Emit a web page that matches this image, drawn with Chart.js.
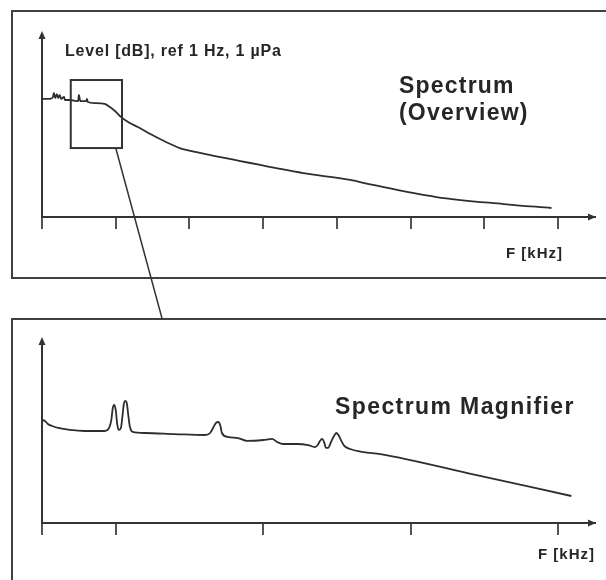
<!DOCTYPE html>
<html>
<head>
<meta charset="utf-8">
<script src="https://cdn.jsdelivr.net/npm/chart.js@4.4.1/dist/chart.umd.min.js"></script>
<style>
  html, body { margin: 0; padding: 0; background: #fff; overflow: hidden; }
  body { position: relative; width: 606px; height: 580px; }
  .panel { position: absolute; box-sizing: border-box; border: 2px solid #404040; }
  #panelTop { left: 11px; top: 10px; width: 700px; height: 269px; border-right: none; }
  #panelBottom { left: 11px; top: 318px; width: 700px; height: 400px; border-right: none; border-bottom: none; }
  canvas { position: absolute; left: 0; }
  #overview { top: 0; }
  #magnifier { top: 290px; }
  .txt { position: absolute; font-family: "Liberation Sans", Arial, sans-serif; font-weight: bold;
         color: #262626; line-height: 1; white-space: nowrap; }
</style>
</head>
<body>
<div class="panel" id="panelTop"></div>
<div class="panel" id="panelBottom"></div>
<canvas id="overview" width="606" height="320"></canvas>
<canvas id="magnifier" width="606" height="290"></canvas>

<div class="txt" style="left:65px; top:43px; font-size:16px; letter-spacing:0.8px;">Level [dB], ref 1 Hz, 1 µPa</div>
<div class="txt" style="left:399px; top:72px; font-size:23px; line-height:27px; letter-spacing:1.2px;">Spectrum<br>(Overview)</div>
<div class="txt" style="left:506px; top:245px; font-size:15px; letter-spacing:1px;">F [kHz]</div>
<div class="txt" style="left:335px; top:395px; font-size:23px; letter-spacing:1.4px;">Spectrum Magnifier</div>
<div class="txt" style="left:538px; top:546px; font-size:15px; letter-spacing:1px;">F [kHz]</div>

<script>
// overview spectrum: frequency in kHz, level in dB
const overviewFreq = [0.00, 0.11, 0.15, 0.16, 0.18, 0.20, 0.22, 0.24, 0.26, 0.30, 0.31, 0.38,
  0.49, 0.50, 0.52, 0.60, 0.61, 0.62, 0.72, 0.85, 0.92, 0.99, 1.07, 1.19, 1.30, 1.47, 1.68,
  1.87, 2.14, 2.42, 2.69, 2.96, 3.23, 3.54, 4.18, 4.49, 5.35, 6.26, 6.91];
const overviewLevel = [65.6, 65.6, 66.7, 68.9, 66.1, 68.3, 66.1, 67.8, 65.6, 66.7, 65.0, 65.0,
  64.4, 67.8, 64.4, 64.4, 65.6, 63.9, 63.3, 62.8, 61.1, 58.9, 55.6, 52.2, 50.0, 46.1, 41.7,
  38.3, 35.6, 33.3, 31.1, 28.9, 26.7, 24.4, 20.6, 17.8, 11.1, 7.2, 5.0];
const overviewTicks = [0, 1, 2, 3, 4, 5, 6, 7];

// magnified part of the spectrum with the tonal peaks
const magnifierFreq = [0.00, 0.04, 0.08, 0.14, 0.22, 0.38, 0.58, 0.85, 0.91, 0.94, 0.96, 0.98,
  1.00, 1.02, 1.04, 1.07, 1.09, 1.11, 1.13, 1.15, 1.17, 1.19, 1.23, 1.40, 1.80, 2.21, 2.28,
  2.32, 2.36, 2.39, 2.42, 2.44, 2.52, 2.66, 2.78, 3.00, 3.12, 3.19, 3.27, 3.46, 3.61, 3.70,
  3.74, 3.77, 3.80, 3.83, 3.85, 3.88, 3.92, 3.96, 3.99, 4.02, 4.06, 4.10, 4.18, 4.36, 4.59,
  5.88, 7.18];
const magnifierLevel = [57.2, 56.7, 55.0, 53.9, 52.8, 51.7, 51.1, 51.1, 52.8, 57.2, 63.9, 65.6,
  62.8, 55.0, 51.7, 52.8, 58.9, 66.1, 67.8, 66.7, 60.0, 53.9, 50.6, 50.0, 49.4, 48.9, 50.0,
  52.8, 55.6, 56.1, 53.9, 50.0, 47.8, 47.2, 45.6, 46.1, 46.7, 45.0, 43.9, 43.9, 43.3, 42.2,
  43.3, 45.6, 46.7, 44.4, 41.7, 41.7, 45.0, 48.3, 50.0, 48.9, 45.6, 42.8, 41.1, 39.4, 38.3,
  26.7, 15.0];
const magnifierTicks = [0, 1, 3, 5, 7];

// window of the overview that is magnified, and the callout line from it
const zoomFreqRange = [0.39, 1.085];
const zoomLevelRange = [38.3, 76.1];
const leaderFreq = [1.0, 1.63];

const axisColor = "#333";

const arrowHeads = {
  id: "arrowHeads",
  afterDraw(chart) {
    const { ctx, chartArea: a } = chart;
    ctx.save();
    ctx.fillStyle = axisColor;
    ctx.beginPath();
    ctx.moveTo(a.left, a.top - 6);
    ctx.lineTo(a.left - 3.5, a.top + 2);
    ctx.lineTo(a.left + 3.5, a.top + 2);
    ctx.closePath();
    ctx.moveTo(a.right + 1, a.bottom);
    ctx.lineTo(a.right - 7, a.bottom - 3.5);
    ctx.lineTo(a.right - 7, a.bottom + 3.5);
    ctx.closePath();
    ctx.fill();
    ctx.restore();
  },
};

const zoomWindow = {
  id: "zoomWindow",
  afterDraw(chart) {
    const { ctx } = chart;
    const x = chart.scales.x;
    const y = chart.scales.y;
    const x0 = x.getPixelForValue(zoomFreqRange[0]);
    const x1 = x.getPixelForValue(zoomFreqRange[1]);
    const y0 = y.getPixelForValue(zoomLevelRange[1]);
    const y1 = y.getPixelForValue(zoomLevelRange[0]);
    ctx.save();
    ctx.strokeStyle = axisColor;
    ctx.lineWidth = 2;
    ctx.strokeRect(x0, y0, x1 - x0, y1 - y0);
    ctx.lineWidth = 1.5;
    ctx.beginPath();
    ctx.moveTo(x.getPixelForValue(leaderFreq[0]), y1);
    ctx.lineTo(x.getPixelForValue(leaderFreq[1]), chart.height - 1);
    ctx.stroke();
    ctx.restore();
  },
};

function drawSpectrum(canvasId, freq, level, tickValues, padding, plugins) {
  const ctx = document.getElementById(canvasId).getContext("2d");
  return new Chart(ctx, {
    type: "line",
    data: {
      datasets: [
        {
          data: freq.map((f, i) => ({ x: f, y: level[i] })),
          borderColor: "#2e2e2e",
          borderWidth: 1.8,
          pointRadius: 0,
          fill: false,
          cubicInterpolationMode: "monotone",
        },
      ],
    },
    options: {
      responsive: false,
      animation: false,
      layout: { padding },
      plugins: { legend: { display: false }, tooltip: { enabled: false } },
      scales: {
        x: {
          type: "linear",
          min: 0,
          max: 7.5,
          afterBuildTicks: (scale) => {
            scale.ticks = tickValues.map((v) => ({ value: v }));
          },
          ticks: { display: false },
          grid: { drawOnChartArea: false, drawTicks: true, tickLength: 12, color: "#555", lineWidth: 2 },
          border: { color: axisColor, width: 2 },
        },
        y: {
          min: 0,
          max: 100,
          ticks: { display: false },
          grid: { drawOnChartArea: false, drawTicks: false },
          border: { color: axisColor, width: 2 },
        },
      },
    },
    plugins,
  });
}

drawSpectrum("overview", overviewFreq, overviewLevel, overviewTicks,
  { left: 42, top: 37, right: 11, bottom: 91 }, [arrowHeads, zoomWindow]);
drawSpectrum("magnifier", magnifierFreq, magnifierLevel, magnifierTicks,
  { left: 42, top: 53, right: 11, bottom: 45 }, [arrowHeads]);
</script>
</body>
</html>
